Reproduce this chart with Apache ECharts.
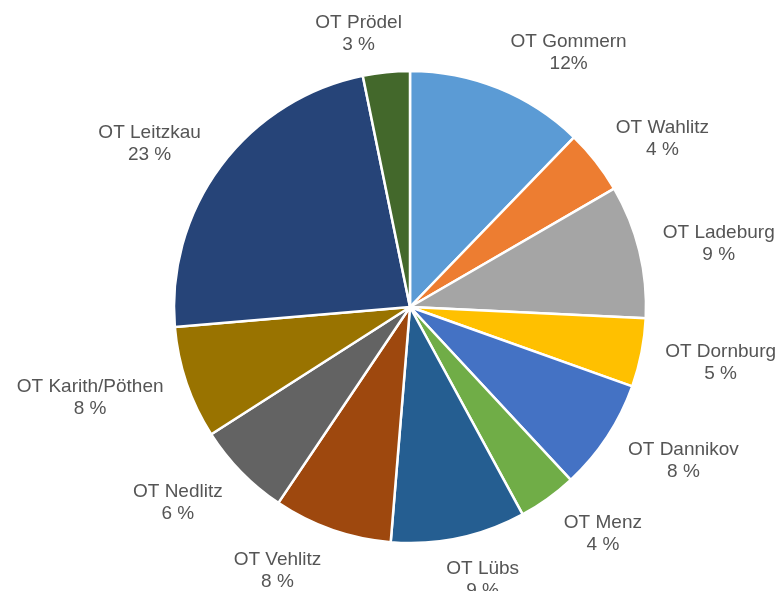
<!DOCTYPE html>
<html>
<head>
<meta charset="utf-8">
<script src="https://cdn.jsdelivr.net/npm/echarts@6/dist/echarts.min.js"></script>
<style>
  html, body { margin: 0; padding: 0; background: #fff; }
  #chart { width: 779px; height: 591px; }
</style>
</head>
<body>
<div id="chart"></div>
<script>
// Ortsteile, clockwise from 12 o'clock
var districts = ["OT Gommern", "OT Wahlitz", "OT Ladeburg", "OT Dornburg", "OT Dannikov", "OT Menz",
  "OT Lübs", "OT Vehlitz", "OT Nedlitz", "OT Karith/Pöthen", "OT Leitzkau", "OT Prödel"];
var shares = [12.2, 4.4, 9.1, 4.7, 7.6, 4.0, 9.2, 8.1, 6.5, 7.7, 23.1, 3.2];
var pctLabels = ["12%", "4 %", "9 %", "5 %", "8 %", "4 %", "9 %", "8 %", "6 %", "8 %", "23 %", "3 %"];
var colors = ["#5b9bd5", "#ed7d31", "#a5a5a5", "#ffc000", "#4472c4", "#70ad47",
  "#255e91", "#9e480e", "#636363", "#997300", "#264478", "#43682b"];

var CX = 410, CY = 307, R = 236;

function clamp(v) { return Math.max(-1, Math.min(1, v)); }

var chart = echarts.init(document.getElementById("chart"));
chart.setOption({
  animation: false,
  series: [{
    type: "pie",
    center: [CX, CY],
    radius: R,
    startAngle: 90,
    clockwise: true,
    avoidLabelOverlap: false,
    itemStyle: { borderColor: "#fff", borderWidth: 2.5 },
    label: {
      show: true,
      position: "outside",
      alignTo: "none",
      fontFamily: "Liberation Sans, Arial, sans-serif",
      fontSize: 19,
      lineHeight: 22,
      color: "#555555",
      formatter: function (p) { return p.name + "\n" + pctLabels[p.dataIndex]; }
    },
    labelLine: { show: false, length: 19, length2: 0 },
    // Excel "best fit"-ish: the label box hugs the anchor point on the side facing the pie
    labelLayout: function (p) {
      var r = p.labelRect;
      var ax = p.align === "right" ? r.x + r.width : r.x;
      var ay = r.y + r.height / 2;
      var dx = ax - CX, dy = ay - CY, d = Math.sqrt(dx * dx + dy * dy) || 1;
      var s = dx / d;
      var hx = dy < 0 ? clamp(4 * s)
        : (s < 0 ? -1 : 1) * Math.min(1, Math.pow(Math.abs(s) / 0.35, 2));
      var hy = clamp(dy / d);
      return { x: ax + hx * r.width / 2, y: ay + hy * r.height / 2 + 2, align: "center", verticalAlign: "middle" };
    },
    data: districts.map(function (n, i) {
      return { name: n, value: shares[i], itemStyle: { color: colors[i] } };
    })
  }]
});
</script>
</body>
</html>
